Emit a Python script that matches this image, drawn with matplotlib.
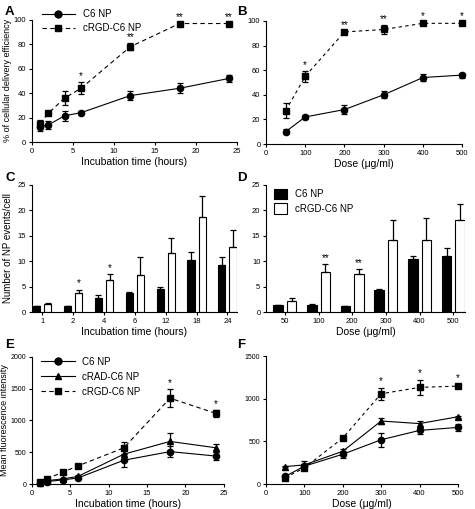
import matplotlib
matplotlib.use("Agg")
import matplotlib.pyplot as plt
from matplotlib.lines import Line2D
import numpy as np

plt.rcParams['font.family'] = ['Liberation Sans Narrow', 'Liberation Sans', 'DejaVu Sans']
plt.rcParams['font.size'] = 6

# A: delivery efficiency vs time
t_hours = [1, 2, 4, 6, 12, 18, 24]
a_c6 = [12.5, 14, 21.5, 24, 38, 44, 52]
a_c6_err = [3.5, 3, 4, 1, 4, 4, 3]
a_rgd = [15, 23.5, 36, 44, 78, 97, 97]
a_rgd_err = [3, 1, 6, 5, 3, 1, 1]
a_stars = ["", "", "", "*", "**", "**", "**"]

# B: delivery efficiency vs dose
doses = [50, 100, 200, 300, 400, 500]
b_c6 = [10, 22, 28, 40, 54, 56]
b_c6_err = [2, 1.5, 3.5, 3, 3, 2]
b_rgd = [27, 55, 91, 93, 98, 98]
b_rgd_err = [6, 4.5, 1, 3.5, 1, 1]
b_stars = ["", "*", "**", "**", "*", "*"]

# C: NP events per cell vs time
c_labels = ["1", "2", "4", "6", "12", "18", "24"]
c_c6 = [1.1, 1.1, 2.7, 3.7, 4.5, 10.2, 9.2]
c_c6_err = [0.1, 0.1, 0.6, 0.3, 0.4, 1.6, 1.7]
c_rgd = [1.6, 3.8, 6.3, 7.3, 11.6, 18.6, 12.7]
c_rgd_err = [0.2, 0.6, 1.1, 3.5, 3.0, 4.1, 3.4]
c_stars = ["", "*", "*", "", "", "", ""]

# D: NP events per cell vs dose
d_labels = ["50", "100", "200", "300", "400", "500"]
d_c6 = [1.3, 1.3, 1.1, 4.4, 10.4, 11.1]
d_c6_err = [0.1, 0.2, 0.1, 0.2, 0.7, 1.4]
d_rgd = [2.2, 7.8, 7.4, 14.2, 14.1, 18.0]
d_rgd_err = [0.5, 1.6, 1.0, 3.9, 4.4, 3.3]
d_stars = ["", "**", "**", "", "", ""]

# E: mean fluorescence vs time
e_c6 = [15, 40, 65, 95, 375, 510, 440]
e_c6_err = [10, 15, 15, 15, 100, 90, 60]
e_rad = [20, 55, 80, 120, 470, 670, 570]
e_rad_err = [10, 15, 15, 15, 80, 130, 60]
e_rgd = [30, 85, 185, 285, 570, 1350, 1110]
e_rgd_err = [10, 15, 15, 20, 90, 140, 50]
e_stars = ["", "", "", "", "", "*", "*"]

# F: mean fluorescence vs dose
f_c6 = [90, 210, 350, 520, 630, 665]
f_c6_err = [20, 30, 40, 80, 40, 40]
f_rad = [205, 225, 385, 740, 710, 790]
f_rad_err = [5, 40, 30, 35, 35, 10]
f_rgd = [75, 190, 540, 1060, 1135, 1150]
f_rgd_err = [20, 30, 10, 70, 90, 15]
f_stars = ["", "", "", "*", "*", "*"]

dash = (0, (4, 3))


def style(ax):
    for s in ["top", "right"]:
        ax.spines[s].set_visible(False)
    for s in ["left", "bottom"]:
        ax.spines[s].set_linewidth(0.8)
    ax.tick_params(direction="out", length=2.5, width=0.8, labelsize=5.5, pad=1.5)


def line(ax, x, y, e, marker, ls, ms=4.5):
    ax.errorbar(x, y, yerr=e, color="black", marker=marker, ms=ms, lw=0.8,
                ls=ls, capsize=2.2, elinewidth=0.9, capthick=0.9, clip_on=False)


def handle(marker, ls, label):
    return Line2D([], [], color="black", marker=marker, ms=5, lw=0.8, ls=ls, label=label)


def stars(ax, x, y, e, s, gap):
    for xi, yi, ei, si in zip(x, y, e, s):
        if si:
            ax.text(xi, yi + ei + gap, si, ha="center", va="bottom", fontsize=7)


fig = plt.figure(figsize=(4.75, 5.09), dpi=100)

# A
ax = fig.add_axes([0.067, 0.721, 0.432, 0.240])
line(ax, t_hours, a_c6, a_c6_err, "o", "-")
line(ax, t_hours, a_rgd, a_rgd_err, "s", dash)
stars(ax, t_hours, a_rgd, a_rgd_err, a_stars, 0.5)
ax.set_xlim(0, 25)
ax.set_ylim(0, 100)
ax.set_xticks([0, 5, 10, 15, 20, 25])
ax.set_yticks([0, 20, 40, 60, 80, 100])
ax.set_xlabel("Incubation time (hours)", fontsize=7.5, labelpad=2)
ax.set_ylabel("% of cellular delivery efficiency", fontsize=6.5)
ax.yaxis.set_label_coords(-0.095, 0.5)
ax.legend(handles=[handle("o", "-", "C6 NP"), handle("s", dash, "cRGD-C6 NP")],
          loc="upper left", bbox_to_anchor=(0.03, 1.12), frameon=False,
          fontsize=7, handlelength=3.4, labelspacing=0.4, borderaxespad=0)
style(ax)

# B
ax = fig.add_axes([0.560, 0.717, 0.413, 0.242])
line(ax, doses, b_c6, b_c6_err, "o", "-")
line(ax, doses, b_rgd, b_rgd_err, "s", (0, (3, 3)))
stars(ax, doses, b_rgd, b_rgd_err, b_stars, 0.5)
ax.set_xlim(0, 500)
ax.set_ylim(0, 100)
ax.set_xticks([0, 100, 200, 300, 400, 500])
ax.set_yticks([0, 20, 40, 60, 80, 100])
ax.set_xlabel("Dose (\u03bcg/ml)", fontsize=7.5, labelpad=2)
style(ax)


def bars(ax, labels, v1, e1, v2, e2, s, w, off):
    x = np.arange(len(labels))
    ax.bar(x - off, v1, w, color="black", edgecolor="black", lw=0.8,
           yerr=[np.zeros(len(v1)), e1], capsize=2, error_kw=dict(lw=0.9, capthick=0.9),
           label="C6 NP")
    ax.bar(x + off, v2, w, color="white", edgecolor="black", lw=0.8,
           yerr=[np.zeros(len(v2)), e2], capsize=2, error_kw=dict(lw=0.9, capthick=0.9),
           label="cRGD-C6 NP")
    stars(ax, x + off, v2, e2, s, 0.3)
    ax.set_xticks(x)
    ax.set_xticklabels(labels)
    ax.set_ylim(0, 25)
    ax.set_yticks([0, 5, 10, 15, 20, 25])


# C
ax = fig.add_axes([0.067, 0.387, 0.432, 0.250])
bars(ax, c_labels, c_c6, c_c6_err, c_rgd, c_rgd_err, c_stars, 0.23, 0.18)
ax.set_xlim(-0.34, 6.31)
ax.set_xlabel("Incubation time (hours)", fontsize=7.5, labelpad=2)
ax.set_ylabel("Number of NP events/cell", fontsize=7)
ax.yaxis.set_label_coords(-0.09, 0.5)
style(ax)

# D
ax = fig.add_axes([0.560, 0.387, 0.419, 0.250])
bars(ax, d_labels, d_c6, d_c6_err, d_rgd, d_rgd_err, d_stars, 0.28, 0.2)
ax.set_xlim(-0.56, 5.35)
ax.set_xlabel("Dose (\u03bcg/ml)", fontsize=7.5, labelpad=2)
ax.legend(loc="upper left", bbox_to_anchor=(0.02, 1.0), frameon=False,
          fontsize=7, handlelength=1.4, handleheight=1.3, labelspacing=0.4,
          borderaxespad=0)
style(ax)

# E
ax = fig.add_axes([0.067, 0.049, 0.404, 0.250])
line(ax, t_hours, e_c6, e_c6_err, "o", "-")
line(ax, t_hours, e_rad, e_rad_err, "^", "-")
line(ax, t_hours, e_rgd, e_rgd_err, "s", dash)
stars(ax, t_hours, e_rgd, e_rgd_err, e_stars, 20)
ax.set_xlim(0, 25)
ax.set_ylim(0, 2000)
ax.set_xticks([0, 5, 10, 15, 20, 25])
ax.set_yticks([0, 500, 1000, 1500, 2000])
ax.set_xlabel("Incubation time (hours)", fontsize=7.5, labelpad=2)
ax.set_ylabel("Mean fluorescence intensity", fontsize=6.5)
ax.yaxis.set_label_coords(-0.12, 0.5)
ax.legend(handles=[handle("o", "-", "C6 NP"), handle("^", "-", "cRAD-C6 NP"),
                   handle("s", dash, "cRGD-C6 NP")],
          loc="upper left", bbox_to_anchor=(0.03, 1.03), frameon=False,
          fontsize=7, handlelength=3.4, labelspacing=0.5, borderaxespad=0)
style(ax)
ax.tick_params(axis="y", labelsize=5)

# F
ax = fig.add_axes([0.560, 0.049, 0.404, 0.251])
line(ax, doses, f_c6, f_c6_err, "o", "-")
line(ax, doses, f_rad, f_rad_err, "^", "-")
line(ax, doses, f_rgd, f_rgd_err, "s", (0, (3, 3)))
stars(ax, doses, f_rgd, f_rgd_err, f_stars, 20)
ax.set_xlim(0, 500)
ax.set_ylim(0, 1500)
ax.set_xticks([0, 100, 200, 300, 400, 500])
ax.set_yticks([0, 500, 1000, 1500])
ax.set_xlabel("Dose (\u03bcg/ml)", fontsize=7.5, labelpad=2)
style(ax)
ax.tick_params(axis="y", labelsize=5)

for lab, x, y in [("A", 5, 12), ("B", 237, 12), ("C", 5, 178),
                  ("D", 237, 178), ("E", 5, 345), ("F", 237, 345)]:
    fig.text(x / 475, 1 - y / 509, lab, fontsize=9.5, fontweight="bold",
             family=["Liberation Sans", "DejaVu Sans"], ha="left", va="center")

fig.savefig("out.png", dpi=100)
